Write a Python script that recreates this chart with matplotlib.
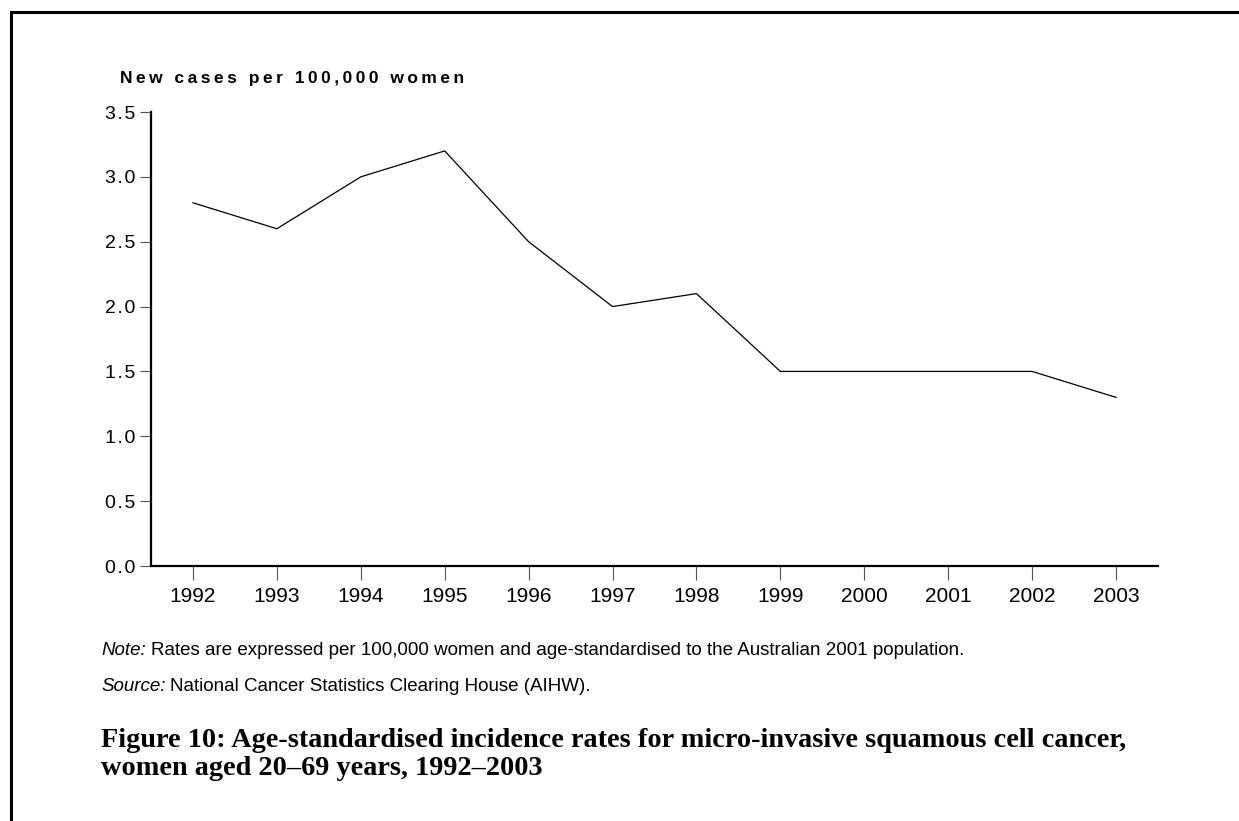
import matplotlib.pyplot as plt
from matplotlib.lines import Line2D

years = [1992, 1993, 1994, 1995, 1996, 1997, 1998, 1999, 2000, 2001, 2002, 2003]
rates = [2.8, 2.6, 3.0, 3.2, 2.5, 2.0, 2.1, 1.5, 1.5, 1.5, 1.5, 1.3]
y_ticks = [0.0, 0.5, 1.0, 1.5, 2.0, 2.5, 3.0, 3.5]

y_title = "New cases per 100,000 women"
note_label = "Note:"
note_text = "Rates are expressed per 100,000 women and age-standardised to the Australian 2001 population."
source_label = "Source:"
source_text = "National Cancer Statistics Clearing House (AIHW)."
caption_lines = ["Figure 10: Age-standardised incidence rates for micro-invasive squamous cell cancer,",
                 "women aged 20\u201369 years, 1992\u20132003"]


def spaced(s, sep='\u2009'):
    # the original uses wide letter spacing on some chart text
    return sep.join(s)


plt.rcParams['font.family'] = ['Liberation Sans', 'DejaVu Sans']

W, H = 1239, 821
fig = plt.figure(figsize=(W / 100, H / 100), dpi=100)
fig.patch.set_facecolor('white')

# axes box in pixels
left, right, top, bottom = 151, 1158, 112, 566
ax = fig.add_axes([left / W, 1 - bottom / H, (right - left) / W, (bottom - top) / H])

ax.plot(years, rates, color='black', linewidth=0.9)
ax.set_xlim(years[0] - 0.5, years[-1] + 0.5)
ax.set_ylim(0, 3.5)
ax.set_xticks(years)
ax.set_xticklabels([str(y) for y in years], fontsize=15)
ax.set_yticks(y_ticks)
ax.set_yticklabels([spaced(f"{v:.1f}", '\u200a') for v in y_ticks], fontsize=14)

for s in ['top', 'right']:
    ax.spines[s].set_visible(False)
for s in ['left', 'bottom']:
    ax.spines[s].set_linewidth(1.6)
ax.tick_params(axis='x', direction='out', length=10, width=0.8, color='#555555', pad=5)
ax.tick_params(axis='y', direction='out', length=8, width=0.8, color='#555555', pad=3)

fig.text(120 / W, 1 - 78 / H, spaced(y_title), fontsize=12.5, fontweight='bold',
         ha='left', va='center')

# note / source lines: italic label then plain text
fig.canvas.draw()
renderer = fig.canvas.get_renderer()
for label, body, yc in [(note_label, note_text, 650), (source_label, source_text, 686)]:
    t = fig.text(101 / W, 1 - yc / H, label, fontsize=13.5, style='italic',
                 ha='left', va='center')
    bb = t.get_window_extent(renderer)
    fig.text((bb.x1 + 5) / W, 1 - yc / H, body, fontsize=13.5, ha='left', va='center')

for line, yc in zip(caption_lines, [740, 768]):
    fig.text(101 / W, 1 - yc / H, line, fontsize=20.3, fontweight='bold',
             family=['Liberation Serif', 'DejaVu Serif'], ha='left', va='center')

# left and top frame lines
fig.add_artist(Line2D([11 / W, 11 / W], [0, 1 - 12 / H], transform=fig.transFigure,
                      color='black', linewidth=2.2))
fig.add_artist(Line2D([11 / W, 1], [1 - 12 / H, 1 - 12 / H], transform=fig.transFigure,
                      color='black', linewidth=2.2))

fig.savefig('out.png', dpi=100, facecolor='white')
